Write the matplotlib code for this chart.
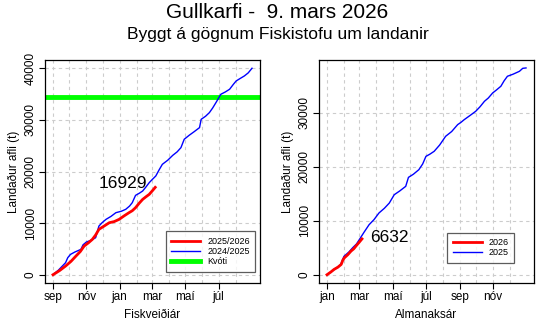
import numpy as np
import matplotlib.pyplot as plt
import matplotlib
matplotlib.rcParams['font.family'] = ['Liberation Sans', 'DejaVu Sans']

# Fishing year (day 0 = 1 Sep)
fy_month_starts = [0, 30, 61, 91, 122, 153, 181, 212, 242, 273, 303, 334]
fy_tick_days = [0, 61, 122, 181, 242, 303]
fy_tick_labels = ['sep', 'nóv', 'jan', 'mar', 'maí', 'júl']

fy_days_prev = [0, 10, 23, 27, 32, 40, 51, 55, 61, 70, 78, 84, 90, 97, 106, 115, 125,
                133, 140, 145, 151, 158, 164, 170, 176, 182, 188, 194, 200, 210, 219,
                227, 234, 240, 249, 258, 268, 271, 279, 286, 292, 298, 307, 315, 323,
                330, 335, 342, 350, 357, 364]
fy_catch_prev = [0, 900, 2330, 3300, 3940, 4400, 4910, 5800, 6330, 6700, 7170, 9430,
                 10100, 10730, 11300, 12020, 12300, 12670, 13300, 13960, 15380, 15800,
                 16220, 17000, 17840, 18500, 19130, 20300, 21390, 22200, 23130, 23800,
                 24620, 26240, 27010, 27700, 28500, 30110, 30700, 31400, 32300, 33340,
                 34960, 35400, 35930, 36900, 37540, 38000, 38510, 39100, 40000]

fy_days_cur = [0, 12, 23, 33, 42, 50, 57, 65, 72, 78, 84, 93, 103, 112, 121, 130, 139,
               145, 151, 158, 164, 170, 176, 182, 187]
fy_catch_cur = [0, 800, 1680, 2600, 3620, 4500, 5560, 6200, 6850, 7700, 8790, 9400,
                10080, 10300, 10730, 11400, 12020, 12400, 12990, 13900, 14600, 15100,
                15570, 16300, 16929]

quota = 34500

# Calendar year (day 0 = 1 Jan)
cy_month_starts = [0, 31, 59, 90, 120, 151, 181, 212, 243, 273, 304, 334]
cy_tick_days = [0, 59, 120, 181, 243, 304]
cy_tick_labels = ['jan', 'mar', 'maí', 'júl', 'sep', 'nóv']

cy_days_prev = [0, 13, 25, 31, 40, 47, 54, 59, 68, 77, 86, 95, 105, 114, 123, 133,
                144, 149, 158, 168, 175, 181, 188, 196, 206, 217, 228, 239, 245, 251,
                262, 272, 280, 288, 295, 303, 310, 318, 324, 330, 340, 352, 358, 364]
cy_catch_prev = [0, 950, 1850, 3400, 4200, 5000, 5700, 6480, 7900, 9260, 10200, 11420,
                 12300, 13270, 14810, 15500, 16360, 18020, 18600, 19440, 20500, 21910,
                 22300, 22840, 24000, 25620, 26500, 27780, 28200, 28700, 29500, 30250,
                 31100, 32100, 32700, 33640, 34200, 34880, 35900, 36730, 37100, 37650,
                 38200, 38270]

cy_days_cur = [0, 7, 13, 20, 26, 29, 32, 38, 44, 49, 53, 58, 64]
cy_catch_cur = [0, 500, 990, 1400, 1910, 2700, 3150, 3700, 4380, 4800, 5310, 5900, 6632]

fig = plt.figure(figsize=(5.55, 3.33), dpi=100)
ax1 = fig.add_axes([45/555, 50/333, 215/555, 223/333])
ax2 = fig.add_axes([319/555, 50/333, 215/555, 223/333])

fig.text(0.5, 1 - 12/333, 'Gullkarfi -  9. mars 2026', ha='center', va='center', fontsize=15)
fig.text(0.5, 1 - 35/333, 'Byggt á gögnum Fiskistofu um landanir', ha='center', va='center',
         fontsize=12.6)


def style_axes(ax, month_starts, tick_days, tick_labels, yticks, xlabel):
    ax.set_xticks(tick_days)
    ax.set_xticklabels(tick_labels)
    ax.set_xticks(month_starts, minor=True)
    ax.set_yticks(yticks)
    ax.set_yticklabels([str(v) for v in yticks], rotation=90, va='center')
    ax.tick_params(which='minor', length=0)
    ax.tick_params(which='major', length=4, labelsize=8.5, pad=2)
    ax.grid(which='both', axis='x', color='#cccccc', linestyle=(0, (3, 3)), linewidth=0.8)
    ax.grid(which='major', axis='y', color='#cccccc', linestyle=(0, (3, 3)), linewidth=0.8)
    ax.set_axisbelow(True)
    ax.set_xlabel(xlabel, fontsize=8.5, labelpad=4)
    ax.set_ylabel('Landaður afli (t)', fontsize=8.5, labelpad=3)
    for sp in ax.spines.values():
        sp.set_linewidth(0.9)


# Fishing year panel
ax1.axhline(quota, color='#00ff00', linewidth=3.5, zorder=2)
ax1.plot(fy_days_prev, fy_catch_prev, color='#0000ff', linewidth=1.0, zorder=3)
ax1.plot(fy_days_cur, fy_catch_cur, color='#ff0000', linewidth=2.0, zorder=4)
ax1.text(128, 17600, str(fy_catch_cur[-1]), ha='center', va='center', fontsize=12.5)
ax1.set_xlim(-14.6, 378.6)
ax1.set_ylim(-1600, 41600)
style_axes(ax1, fy_month_starts, fy_tick_days, fy_tick_labels,
           [0, 10000, 20000, 30000, 40000], 'Fiskveiðiár')
h1 = [plt.Line2D([], [], color='#ff0000', linewidth=2.0),
      plt.Line2D([], [], color='#0000ff', linewidth=1.0),
      plt.Line2D([], [], color='#00ff00', linewidth=3.5)]
leg1 = ax1.legend(h1, ['2025/2026', '2024/2025', 'Kvóti'], loc='lower right',
                  bbox_to_anchor=(1.0, 0.03), fontsize=6.5, frameon=True, fancybox=False,
                  edgecolor='#333333', handlelength=3.2, borderpad=0.6, labelspacing=0.15)
leg1.get_frame().set_linewidth(0.9)

# Calendar year panel
ax2.plot(cy_days_prev, cy_catch_prev, color='#0000ff', linewidth=1.0, zorder=3)
ax2.plot(cy_days_cur, cy_catch_cur, color='#ff0000', linewidth=2.0, zorder=4)
ax2.text(114, 6800, str(cy_catch_cur[-1]), ha='center', va='center', fontsize=12.5)
ax2.set_xlim(-14.6, 378.6)
ax2.set_ylim(-1530, 39740)
style_axes(ax2, cy_month_starts, cy_tick_days, cy_tick_labels,
           [0, 10000, 20000, 30000], 'Almanaksár')
h2 = [plt.Line2D([], [], color='#ff0000', linewidth=2.0),
      plt.Line2D([], [], color='#0000ff', linewidth=1.0)]
leg2 = ax2.legend(h2, ['2026', '2025'], loc='lower right', bbox_to_anchor=(0.93, 0.07),
                  fontsize=6.5, frameon=True, fancybox=False, edgecolor='#333333',
                  handlelength=3.2, borderpad=0.6, labelspacing=0.15)
leg2.get_frame().set_linewidth(0.9)

fig.savefig('out.png', dpi=100)
